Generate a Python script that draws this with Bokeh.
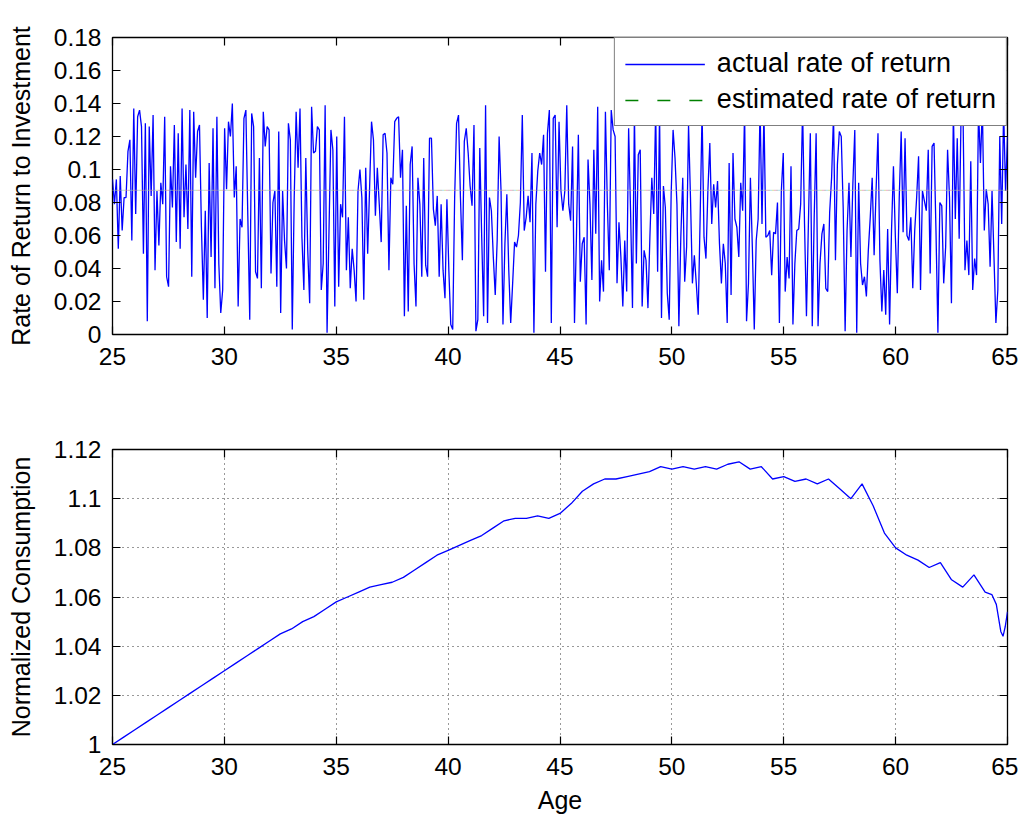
from bokeh.plotting import figure
from bokeh.layouts import column
from bokeh.models import (FixedTicker, LinearAxis, CustomJSTickFormatter, Legend,
                          LegendItem, Range1d)
from bokeh.embed import file_html
from bokeh.resources import INLINE
import numpy as np

# ---------------- data ----------------
rate = [
    0.094, 0.079, 0.094, 0.052, 0.096, 0.063, 0.083, 0.083, 0.111, 0.118, 0.057, 0.137, 0.073, 0.132, 0.136, 0.126,
    0.049, 0.128, 0.008, 0.126, 0.084, 0.133, 0.039, 0.087, 0.054, 0.092, 0.079, 0.132, 0.035, 0.029, 0.102, 0.077,
    0.127, 0.056, 0.122, 0.052, 0.137, 0.071, 0.103, 0.064, 0.136, 0.035, 0.135, 0.095, 0.123, 0.127, 0.065, 0.021,
    0.075, 0.010, 0.104, 0.047, 0.125, 0.028, 0.132, 0.043, 0.013, 0.027, 0.125, 0.088, 0.129, 0.120, 0.140, 0.083,
    0.102, 0.017, 0.070, 0.065, 0.131, 0.136, 0.072, 0.009, 0.134,
    0.126, 0.038, 0.034, 0.107, 0.028, 0.135, 0.114, 0.126, 0.124, 0.037, 0.080, 0.087, 0.029, 0.123, 0.013, 0.087,
    0.057, 0.040, 0.128, 0.118, 0.003, 0.083, 0.135, 0.101, 0.137, 0.059, 0.027, 0.107, 0.051, 0.019, 0.138, 0.110,
    0.111, 0.126, 0.124, 0.027, 0.043, 0.139, 0.001, 0.063, 0.124, 0.112, 0.017, 0.120, 0.029, 0.079, 0.071, 0.132,
    0.039, 0.071, 0.028, 0.052, 0.039, 0.020, 0.087, 0.100, 0.083, 0.021, 0.101, 0.049, 0.089, 0.129, 0.118, 0.072,
    0.101, 0.079, 0.056, 0.121, 0.122, 0.110, 0.039,
    0.095, 0.091, 0.129, 0.131, 0.132, 0.095, 0.112, 0.011, 0.078, 0.014, 0.103, 0.114, 0.043, 0.017, 0.095, 0.079,
    0.035, 0.107, 0.042, 0.035, 0.119, 0.119, 0.076, 0.066, 0.084, 0.035, 0.079, 0.039, 0.022, 0.082, 0.039, 0.006,
    0.003, 0.083, 0.128, 0.133, 0.083, 0.045, 0.117, 0.125, 0.110, 0.090, 0.078, 0.127, 0.002, 0.009, 0.113, 0.059,
    0.011, 0.139, 0.007, 0.083, 0.075, 0.047, 0.024, 0.057, 0.120, 0.087, 0.006, 0.055, 0.085, 0.039, 0.007, 0.031,
    0.056, 0.053, 0.060, 0.080, 0.133, 0.063, 0.071, 0.084, 0.068, 0.110, 0.001, 0.079,
    0.099, 0.110, 0.103, 0.121, 0.038, 0.122, 0.136, 0.007, 0.131, 0.133, 0.065, 0.129, 0.087, 0.075, 0.087, 0.139,
    0.079, 0.069, 0.114, 0.007, 0.059, 0.121, 0.032, 0.055, 0.059, 0.006, 0.106, 0.079, 0.033, 0.112, 0.061, 0.138,
    0.020, 0.045, 0.026, 0.135, 0.079, 0.039, 0.136, 0.124, 0.120, 0.031, 0.068, 0.047, 0.017, 0.057, 0.026, 0.125,
    0.075, 0.016, 0.134, 0.043, 0.109, 0.112, 0.017, 0.051, 0.045, 0.016, 0.059, 0.095, 0.073, 0.137, 0.038, 0.135,
    0.010, 0.090, 0.077, 0.025, 0.009, 0.085, 0.124, 0.107, 0.079, 0.005, 0.059, 0.095, 0.032, 0.053, 0.127,
    0.083, 0.031, 0.048, 0.031, 0.012, 0.071, 0.135, 0.059, 0.046, 0.087, 0.116, 0.067, 0.091, 0.077, 0.093, 0.055,
    0.031, 0.055, 0.043, 0.007, 0.104, 0.024, 0.110, 0.070, 0.065, 0.047, 0.092, 0.075, 0.136, 0.008, 0.031, 0.095,
    0.053, 0.003, 0.057, 0.070, 0.138, 0.067, 0.135, 0.059, 0.060, 0.063, 0.036, 0.062, 0.061, 0.080, 0.007, 0.087,
    0.110, 0.026, 0.047, 0.034, 0.102, 0.006, 0.043, 0.063, 0.064, 0.079, 0.137, 0.067, 0.011, 0.067, 0.122, 0.005,
    0.071, 0.122, 0.005, 0.043, 0.061, 0.067, 0.028, 0.026, 0.074, 0.095, 0.133, 0.045, 0.103, 0.123, 0.120, 0.077,
    0.002,
    0.063, 0.092, 0.047, 0.091, 0.124, 0.001, 0.092, 0.043, 0.030, 0.035, 0.023, 0.051, 0.071, 0.095, 0.048, 0.087,
    0.122, 0.045, 0.014, 0.039, 0.012, 0.064, 0.006, 0.063, 0.102, 0.059, 0.025, 0.083, 0.123, 0.062, 0.119, 0.060,
    0.057, 0.071, 0.028, 0.063, 0.083, 0.108, 0.027, 0.087, 0.081, 0.075, 0.112, 0.037, 0.114, 0.116, 0.063, 0.001,
    0.080, 0.078, 0.031, 0.053, 0.112, 0.083, 0.019, 0.136, 0.070, 0.119, 0.058, 0.135, 0.134, 0.039, 0.057, 0.036,
    0.105, 0.027, 0.046, 0.036, 0.137, 0.104, 0.138, 0.063, 0.088, 0.079, 0.041, 0.087, 0.047, 0.007, 0.027, 0.120,
    0.067, 0.136, 0.087, 0.120,
]
rate_age = np.linspace(25, 65, len(rate))
est_rate = 0.0873

cons_age = [25, 25.5, 26, 26.5, 27, 27.5, 28, 28.5, 29, 29.5, 30, 30.5, 31, 31.5, 32, 32.5, 33, 33.5,
            34, 34.5, 35, 35.5, 36, 36.5, 37, 37.5, 38, 38.5, 39, 39.5, 40, 40.5, 41, 41.5, 42, 42.5,
            43, 43.5, 44, 44.5, 45, 45.5, 46, 46.5, 47, 47.5, 48, 48.5, 49, 49.5, 50, 50.5, 51, 51.5,
            52, 52.5, 53, 53.5, 54, 54.5, 55, 55.5, 56, 56.5, 57, 57.5, 58, 58.5, 59, 59.5, 60, 60.5,
            61, 61.5, 62, 62.5, 63, 63.5, 64, 64.3, 64.5, 64.7, 64.8, 64.9, 65]
cons = [1.000, 1.003, 1.006, 1.009, 1.012, 1.015, 1.018, 1.021, 1.024, 1.027, 1.030, 1.033,
        1.036, 1.039, 1.042, 1.045, 1.047, 1.050, 1.052, 1.055, 1.058, 1.060, 1.062, 1.064,
        1.065, 1.066, 1.068, 1.071, 1.074, 1.077, 1.079, 1.081, 1.083, 1.085, 1.088, 1.091,
        1.092, 1.092, 1.093, 1.092, 1.094, 1.098, 1.103, 1.106, 1.108, 1.108, 1.109, 1.110,
        1.111, 1.113, 1.112, 1.113, 1.112, 1.113, 1.112, 1.114, 1.115, 1.112, 1.113, 1.108,
        1.109, 1.107, 1.108, 1.106, 1.108, 1.104, 1.100, 1.106, 1.097, 1.086, 1.080, 1.077,
        1.075, 1.072, 1.074, 1.067, 1.064, 1.069, 1.062, 1.061, 1.057, 1.046, 1.044, 1.048,
        1.054]

x_ticks = [25, 30, 35, 40, 45, 50, 55, 60, 65]
top_y_ticks = [0, 0.02, 0.04, 0.06, 0.08, 0.1, 0.12, 0.14, 0.16, 0.18]
top_y_labels = ["0", "0.02", "0.04", "0.06", "0.08", "0.1", "0.12", "0.14", "0.16", "0.18"]
bot_y_ticks = [1.0, 1.02, 1.04, 1.06, 1.08, 1.1, 1.12]
bot_y_labels = ["1", "1.02", "1.04", "1.06", "1.08", "1.1", "1.12"]

FONT = "Liberation Sans"
TICK_FS = "24.5px"
LABEL_FS = "25px"


def style(p, yticks, ylabels, ylabel, xlabel=None):
    p.outline_line_color = "black"
    p.outline_line_width = 1.3
    p.background_fill_color = "white"
    xa = p.below[0]
    ya = p.left[0]
    for ax in (xa, ya):
        ax.major_tick_in = 8
        ax.major_tick_out = 0
        ax.minor_tick_line_color = None
        ax.axis_line_color = None
        ax.major_tick_line_color = "black"
        ax.major_tick_line_width = 1.2
        ax.major_label_text_font = FONT
        ax.major_label_text_font_size = TICK_FS
        ax.major_label_text_color = "black"
        ax.axis_label_text_font = FONT
        ax.axis_label_text_font_size = LABEL_FS
        ax.axis_label_text_font_style = "normal"
        ax.axis_label_text_color = "black"
    xa.ticker = FixedTicker(ticks=x_ticks)
    xa.major_label_standoff = 13
    if xlabel:
        xa.axis_label = xlabel
        xa.axis_label_standoff = 8
    ya.ticker = FixedTicker(ticks=yticks)
    ya.major_label_overrides = {t: l for t, l in zip(yticks, ylabels)}
    ya.major_label_standoff = 11
    ya.axis_label = ylabel
    ya.axis_label_standoff = 16
    blank = CustomJSTickFormatter(code="return ''")
    top = LinearAxis(ticker=FixedTicker(ticks=x_ticks), formatter=blank, major_tick_in=8,
                     major_tick_out=0, minor_tick_line_color=None, axis_line_color=None,
                     major_tick_line_color="black", major_tick_line_width=1.2,
                     major_label_standoff=0)
    right = LinearAxis(ticker=FixedTicker(ticks=yticks), formatter=blank, major_tick_in=8,
                       major_tick_out=0, minor_tick_line_color=None, axis_line_color=None,
                       major_tick_line_color="black", major_tick_line_width=1.2,
                       major_label_standoff=0)
    p.add_layout(top, "above")
    p.add_layout(right, "right")


# ---------------- top plot ----------------
p1 = figure(frame_width=895, frame_height=297, x_range=Range1d(25, 65), y_range=Range1d(0, 0.18),
            output_backend="svg", toolbar_location=None,
            min_border_left=112, min_border_right=11, min_border_top=37, min_border_bottom=54)
p1.grid.visible = False
style(p1, top_y_ticks, top_y_labels, "Rate of Return to Investment")

r_act = p1.line(rate_age, rate, line_color="#0000ff", line_width=1.3)
# estimated rate of return: several overlapping dotted lines
dot_colors = ["#9a9a9a", "#e07aa0", "#b8c86a", "#7ac8d8"]
for i, c in enumerate(dot_colors):
    p1.line([25, 65], [est_rate, est_rate], line_color=c, line_width=1.2,
            line_dash="1 7", line_dash_offset=2 * i)
r_est = p1.line([25], [est_rate], line_color="#008000", line_width=1.3, line_dash="13 19")

legend = Legend(items=[LegendItem(label="actual rate of return", renderers=[r_act]),
                       LegendItem(label="estimated rate of return", renderers=[r_est])],
                location="top_right", margin=0, padding=10, spacing=5,
                glyph_width=80, glyph_height=30, label_height=30, label_standoff=12,
                label_text_font=FONT, label_text_font_size="27px", label_text_color="black",
                border_line_color="black", border_line_width=1.3, background_fill_alpha=1.0)
p1.add_layout(legend)

# ---------------- bottom plot ----------------
p2 = figure(frame_width=895, frame_height=295, x_range=Range1d(25, 65), y_range=Range1d(1.0, 1.12),
            output_backend="svg", toolbar_location=None,
            min_border_left=112, min_border_right=11, min_border_top=61, min_border_bottom=60)
style(p2, bot_y_ticks, bot_y_labels, "Normalized Consumption", xlabel="Age")
for g in p2.grid:
    g.grid_line_color = "black"
    g.grid_line_dash = "1 4"
    g.grid_line_width = 1
    g.grid_line_alpha = 0.8
p2.line(cons_age, cons, line_color="#0000ff", line_width=1.3)

layout = column(p1, p2)
open("out.html", "w").write(file_html(layout, INLINE))
